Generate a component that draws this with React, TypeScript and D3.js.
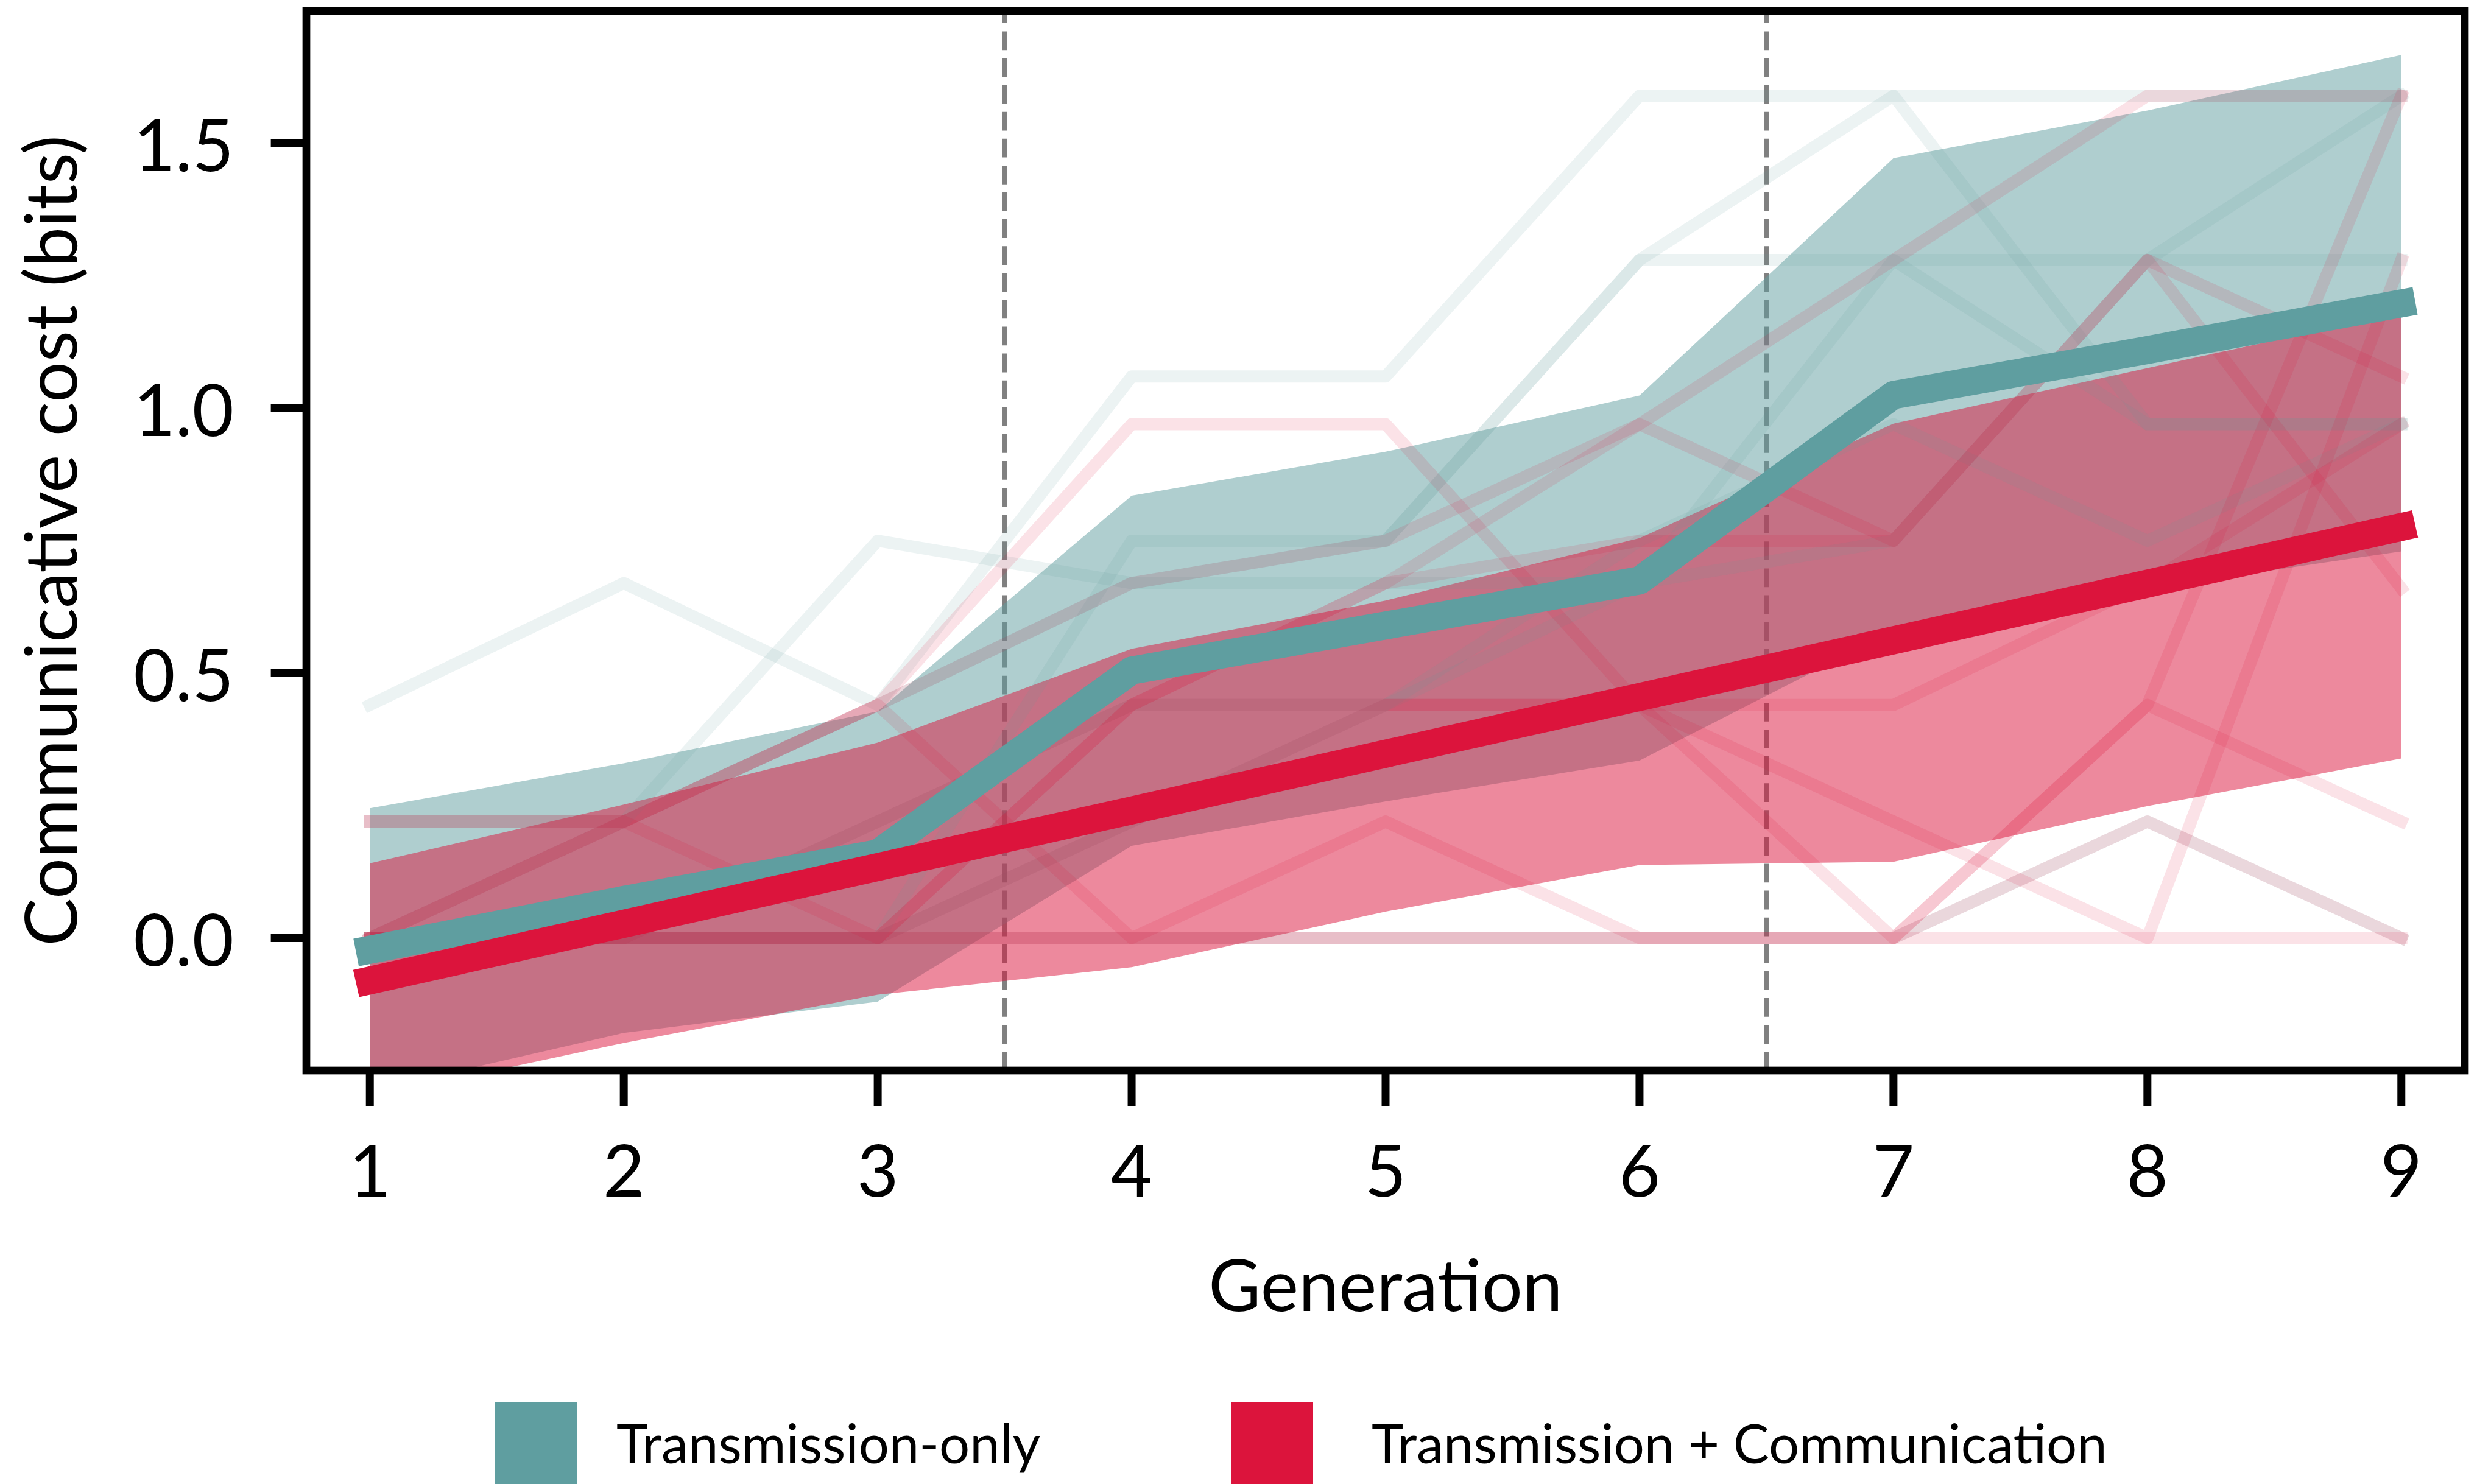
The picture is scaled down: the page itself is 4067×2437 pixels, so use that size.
import React from "react";
import * as d3 from "d3";

// Generations on the x axis and the y-axis ticks
const generations = [1, 2, 3, 4, 5, 6, 7, 8, 9];
const yTickValues = [0, 0.5, 1.0, 1.5];
const phaseBoundaries = [3.5, 6.5];

// Model estimate and interval, Transmission-only condition
const transMean = [-0.022, 0.072, 0.16, 0.505, 0.59, 0.675, 1.025, 1.11, 1.198];
const transUpper = [0.245, 0.33, 0.428, 0.835, 0.918, 1.024, 1.472, 1.562, 1.667];
const transLower = [-0.289, -0.179, -0.12, 0.174, 0.258, 0.335, 0.58, 0.66, 0.73];

// Model estimate and interval, Transmission + Communication condition
const commMean = [-0.08, 0.027, 0.134, 0.241, 0.348, 0.455, 0.562, 0.669, 0.776];
const commUpper = [0.141, 0.252, 0.369, 0.546, 0.637, 0.755, 0.971, 1.076, 1.18];
const commLower = [-0.3, -0.198, -0.107, -0.055, 0.05, 0.138, 0.144, 0.249, 0.339];

// Individual transmission chains, Transmission-only
const transChains = [
  [0.44, 0.67, 0.44, 1.06, 1.06, 1.59, 1.59, 1.59, 1.59],
  [0.22, 0.22, 0.75, 0.67, 0.67, 0.67, 1.28, 0.97, 0.97],
  [0, 0, 0, 0.75, 0.75, 1.28, 1.28, 1.28, 1.28],
  [0, 0.22, 0.44, 0.67, 0.75, 1.28, 1.59, 0.97, 0.97],
  [0, 0, 0, 0.22, 0.44, 0.67, 0.75, 1.28, 1.59],
  [0, 0, 0, 0, 0, 0, 0, 0.22, 0],
  [0, 0, 0.22, 0.44, 0.44, 0.75, 0.97, 0.75, 0.97],
];

// Individual transmission chains, Transmission + Communication
const commChains = [
  [0.22, 0.22, 0.44, 0.97, 0.97, 0.44, 0.22, 0, 1.28],
  [0, 0, 0, 0, 0, 0, 0, 0, 0],
  [0, 0.22, 0.44, 0, 0.22, 0, 0, 0.44, 0.22],
  [0, 0, 0, 0.44, 0.44, 0.44, 0.44, 0.67, 0.97],
  [0, 0.22, 0.44, 0.67, 0.75, 0.97, 1.28, 1.59, 1.59],
  [0, 0, 0, 0, 0, 0, 0, 0.22, 0],
  [0, 0, 0, 0.22, 0.44, 0.44, 0, 0.44, 1.59],
  [0.22, 0.22, 0, 0.44, 0.67, 0.97, 0.75, 1.28, 1.06],
  [0, 0, 0.22, 0.44, 0.67, 0.75, 0.75, 1.28, 0.66],
];

const legendLabels = ["Transmission-only", "Transmission + Communication"];

const TEAL = "cadetblue";
const CRIMSON = "crimson";

const W = 4067;
const H = 2437;
const plot = { left: 503, right: 4047, top: 18, bottom: 1758 };
const FONT = "Lato, 'Open Sans', sans-serif";
const FONT_WEIGHT = 400;

export default function App() {
  const x = d3.scaleLinear().domain([0.75, 9.25]).range([plot.left, plot.right]);
  const y = d3.scaleLinear().domain([-0.25, 1.75]).range([plot.bottom, plot.top]);

  const line = d3
    .line<number>()
    .x((_, i) => x(generations[i]))
    .y((d) => y(d));

  const band = (lo: number[], hi: number[]) =>
    d3
      .area<number>()
      .x((g) => x(g))
      .y0((_, i) => y(lo[i]))
      .y1((_, i) => y(hi[i]))(generations) as string;

  const spineW = 12.7;
  const tickLen = 52;

  return (
    <svg
      width={W}
      height={H}
      viewBox={`0 0 ${W} ${H}`}
      style={{ position: "absolute", left: 0, top: 0, background: "#fff" }}
    >
      <defs>
        <clipPath id="plot-area">
          <rect x={plot.left} y={plot.top} width={plot.right - plot.left} height={plot.bottom - plot.top} />
        </clipPath>
      </defs>
      <rect x={0} y={0} width={W} height={H} fill="#fff" />

      <g clipPath="url(#plot-area)">
        {/* phase boundaries */}
        {phaseBoundaries.map((b) => (
          <line
            key={b}
            x1={x(b)}
            x2={x(b)}
            y1={plot.bottom}
            y2={plot.top}
            stroke="#808080"
            strokeWidth={8.5}
            strokeDasharray="30.8 13.3"
          />
        ))}

        {/* interval bands */}
        <path d={band(transLower, transUpper)} fill={TEAL} fillOpacity={0.5} />
        <path d={band(commLower, commUpper)} fill={CRIMSON} fillOpacity={0.5} />

        {/* individual chains */}
        {transChains.map((c, i) => (
          <path
            key={`t${i}`}
            d={line(c) as string}
            fill="none"
            stroke={TEAL}
            strokeOpacity={0.12}
            strokeWidth={20}
            strokeLinecap="square"
            strokeLinejoin="round"
          />
        ))}
        {commChains.map((c, i) => (
          <path
            key={`c${i}`}
            d={line(c) as string}
            fill="none"
            stroke={CRIMSON}
            strokeOpacity={0.12}
            strokeWidth={20}
            strokeLinecap="square"
            strokeLinejoin="round"
          />
        ))}

        {/* model estimates */}
        <path
          d={line(transMean) as string}
          fill="none"
          stroke={TEAL}
          strokeWidth={46}
          strokeLinecap="square"
          strokeLinejoin="round"
        />
        <path
          d={line(commMean) as string}
          fill="none"
          stroke={CRIMSON}
          strokeWidth={46}
          strokeLinecap="square"
          strokeLinejoin="round"
        />
      </g>

      {/* frame */}
      <rect
        x={plot.left}
        y={plot.top}
        width={plot.right - plot.left}
        height={plot.bottom - plot.top}
        fill="none"
        stroke="#000"
        strokeWidth={spineW}
        strokeLinejoin="miter"
      />

      {/* y axis */}
      {yTickValues.map((v) => (
        <g key={v}>
          <line
            x1={plot.left - spineW / 2 - tickLen}
            x2={plot.left}
            y1={y(v)}
            y2={y(v)}
            stroke="#000"
            strokeWidth={13}
          />
          <text
            x={384}
            y={y(v) + 45}
            textAnchor="end"
            fontFamily={FONT}
            fontWeight={FONT_WEIGHT}
            fontSize={118}
            fill="#000"
          >
            {v.toFixed(1)}
          </text>
        </g>
      ))}

      {/* x axis */}
      {generations.map((g) => (
        <g key={g}>
          <line
            x1={x(g)}
            x2={x(g)}
            y1={plot.bottom}
            y2={plot.bottom + spineW / 2 + tickLen}
            stroke="#000"
            strokeWidth={13}
          />
          <text
            x={x(g)}
            y={1965}
            textAnchor="middle"
            fontFamily={FONT}
            fontWeight={FONT_WEIGHT}
            fontSize={118}
            fill="#000"
          >
            {g}
          </text>
        </g>
      ))}

      <text
        x={(plot.left + plot.right) / 2}
        y={2153}
        textAnchor="middle"
        fontFamily={FONT}
        fontWeight={FONT_WEIGHT}
        fontSize={118}
        fill="#000"
      >
        Generation
      </text>
      <text
        transform={`translate(126, ${(plot.top + plot.bottom) / 2}) rotate(-90)`}
        textAnchor="middle"
        fontFamily={FONT}
        fontWeight={FONT_WEIGHT}
        fontSize={118}
        fill="#000"
      >
        Communicative cost (bits)
      </text>

      {/* legend */}
      <rect x={812} y={2303} width={135} height={200} fill={TEAL} />
      <text x={1012} y={2403} fontFamily={FONT} fontWeight={FONT_WEIGHT} fontSize={88.5} fill="#000">
        {legendLabels[0]}
      </text>
      <rect x={2021} y={2303} width={135} height={200} fill={CRIMSON} />
      <text x={2252} y={2403} fontFamily={FONT} fontWeight={FONT_WEIGHT} fontSize={88.5} fill="#000">
        {legendLabels[1]}
      </text>
    </svg>
  );
}
